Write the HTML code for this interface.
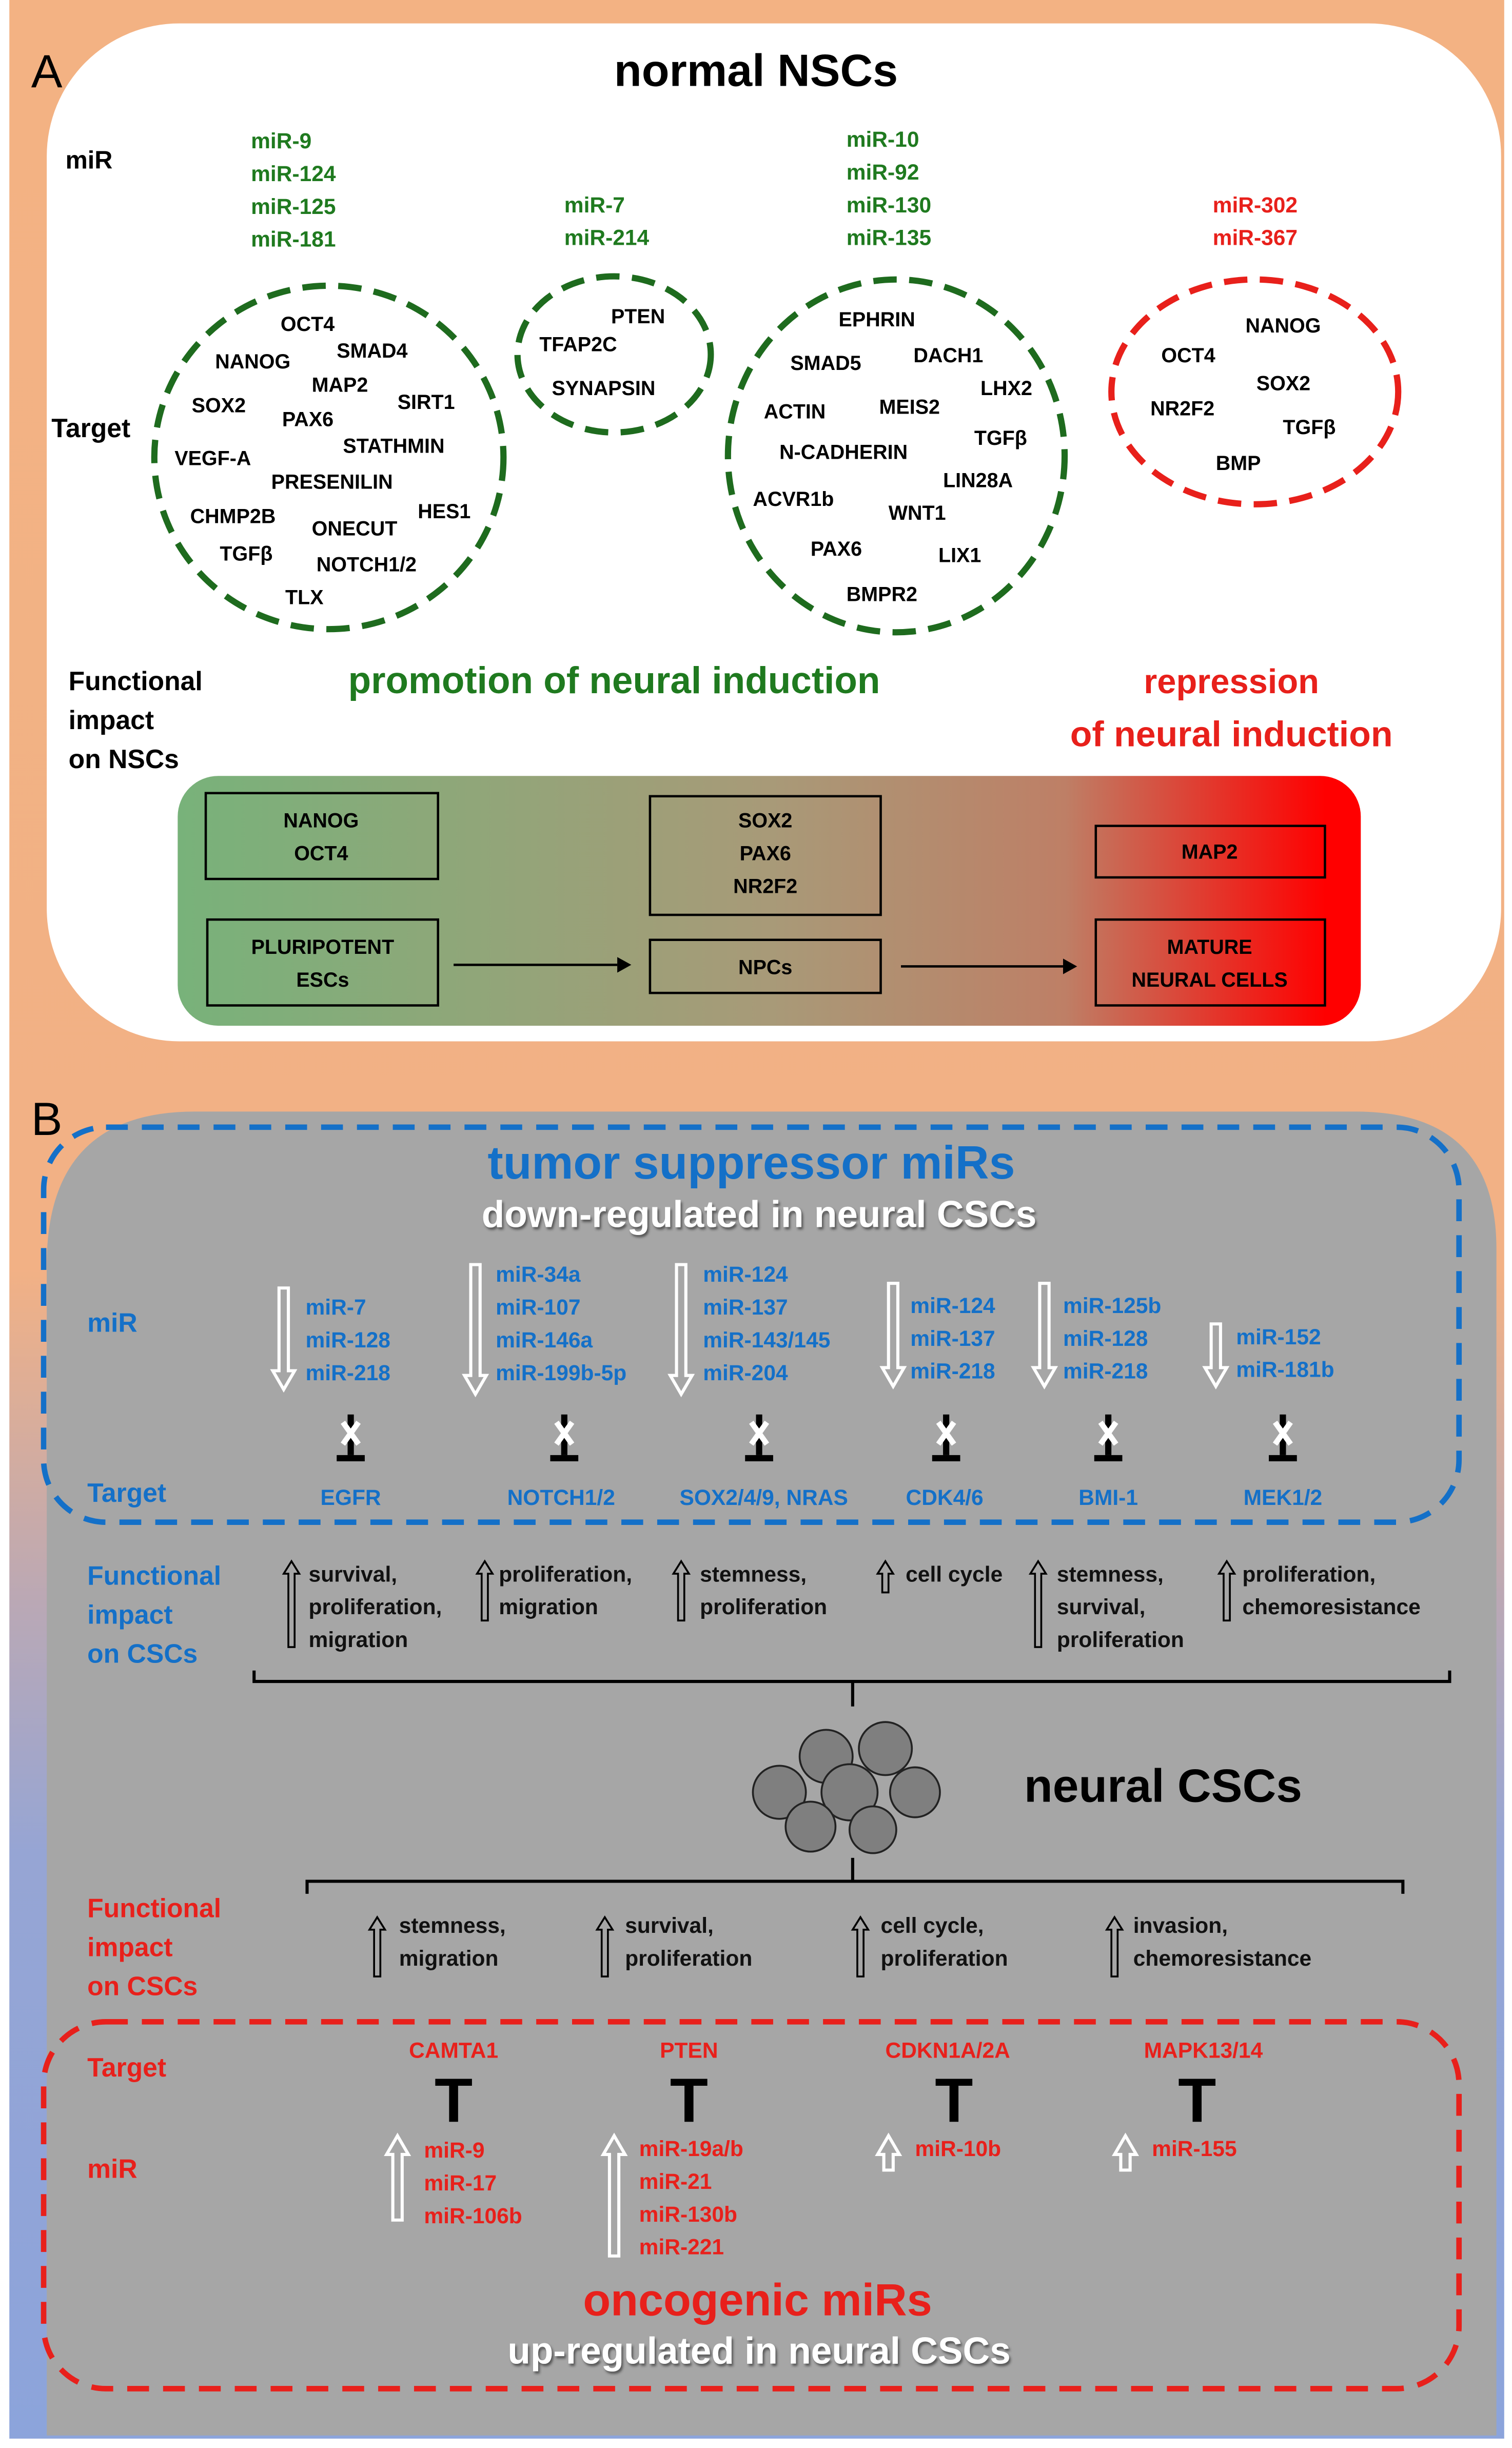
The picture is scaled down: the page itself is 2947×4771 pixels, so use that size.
<!DOCTYPE html>
<html><head><meta charset="utf-8"><style>
html,body{margin:0;padding:0;background:#fff;}
svg{display:block;}
text{font-family:"Liberation Sans",sans-serif;font-weight:bold;}
</style></head><body>
<svg width="2947" height="4771" viewBox="0 0 970 1568" preserveAspectRatio="none" xmlns="http://www.w3.org/2000/svg">
<defs>
<linearGradient id="bg" x1="0" y1="0" x2="0" y2="1">
<stop offset="0" stop-color="#F3B283"/><stop offset="0.52" stop-color="#F2B185"/>
<stop offset="0.66" stop-color="#B9A8B6"/><stop offset="0.76" stop-color="#96A5D4"/><stop offset="1" stop-color="#8CA4DB"/>
</linearGradient>
<linearGradient id="gr" x1="0" y1="0" x2="1" y2="0">
<stop offset="0" stop-color="#78B27A"/><stop offset="0.5" stop-color="#A89A78"/>
<stop offset="0.75" stop-color="#BE7F66"/><stop offset="0.97" stop-color="#FF0000"/>
</linearGradient>
<filter id="sh"><feDropShadow dx="1" dy="1.5" stdDeviation="0.8" flood-color="#333" flood-opacity="0.7"/></filter>
</defs>
<rect x="0" y="0" width="970" height="1568" fill="#fff"/>
<rect x="6" y="0" width="959" height="1562" fill="url(#bg)"/>

<!-- Panel A -->
<rect x="30" y="15" width="933" height="652" rx="85" fill="#fff"/>
<text x="20" y="56" font-size="30" font-weight="normal" style="font-weight:normal">A</text>
<text x="485" y="55" font-size="29" text-anchor="middle">normal NSCs</text>
<text x="42" y="108" font-size="16">miR</text>
<g font-size="14" fill="#1F7A1F">
<text x="161" y="95">miR-9</text><text x="161" y="116">miR-124</text><text x="161" y="137">miR-125</text><text x="161" y="158">miR-181</text>
<text x="362" y="136">miR-7</text><text x="362" y="157">miR-214</text>
<text x="543" y="94">miR-10</text><text x="543" y="115">miR-92</text><text x="543" y="136">miR-130</text><text x="543" y="157">miR-135</text>
</g>
<g font-size="14" fill="#E8201B"><text x="778" y="136">miR-302</text><text x="778" y="157">miR-367</text></g>
<text x="33" y="280" font-size="17">Target</text>
<g fill="none" stroke-width="4" stroke-dasharray="15 8">
<ellipse cx="211" cy="293" rx="112" ry="110" stroke="#1E6B1E"/>
<ellipse cx="394" cy="227" rx="62" ry="50" stroke="#1E6B1E"/>
<ellipse cx="575" cy="292" rx="108" ry="113" stroke="#1E6B1E"/>
<ellipse cx="805" cy="251" rx="92" ry="72" stroke="#E8201B"/>
</g>
<g font-size="13">
<text x="180" y="212">OCT4</text><text x="216" y="229">SMAD4</text><text x="138" y="236">NANOG</text><text x="200" y="251">MAP2</text>
<text x="255" y="262">SIRT1</text><text x="123" y="264">SOX2</text><text x="181" y="273">PAX6</text><text x="220" y="290">STATHMIN</text>
<text x="112" y="298">VEGF-A</text><text x="174" y="313">PRESENILIN</text><text x="268" y="332">HES1</text><text x="122" y="335">CHMP2B</text>
<text x="200" y="343">ONECUT</text><text x="141" y="359">TGFβ</text><text x="203" y="366">NOTCH1/2</text><text x="183" y="387">TLX</text>
<text x="392" y="207">PTEN</text><text x="346" y="225">TFAP2C</text><text x="354" y="253">SYNAPSIN</text>
<text x="538" y="209">EPHRIN</text><text x="586" y="232">DACH1</text><text x="507" y="237">SMAD5</text><text x="629" y="253">LHX2</text>
<text x="490" y="268">ACTIN</text><text x="564" y="265">MEIS2</text><text x="625" y="285">TGFβ</text><text x="500" y="294">N-CADHERIN</text>
<text x="605" y="312">LIN28A</text><text x="483" y="324">ACVR1b</text><text x="570" y="333">WNT1</text><text x="520" y="356">PAX6</text>
<text x="602" y="360">LIX1</text><text x="543" y="385">BMPR2</text>
<text x="799" y="213">NANOG</text><text x="745" y="232">OCT4</text><text x="806" y="250">SOX2</text><text x="738" y="266">NR2F2</text>
<text x="823" y="278">TGFβ</text><text x="780" y="301">BMP</text>
</g>
<g font-size="17"><text x="44" y="442">Functional</text><text x="44" y="467">impact</text><text x="44" y="492">on NSCs</text></g>
<text x="394" y="444" font-size="24" fill="#1F7A1F" text-anchor="middle">promotion  of neural induction</text>
<text x="790" y="444" font-size="22" fill="#E8201B" text-anchor="middle">repression</text>
<text x="790" y="478" font-size="23" fill="#E8201B" text-anchor="middle">of neural induction</text>
<rect x="114" y="497" width="759" height="160" rx="26" fill="url(#gr)"/>
<g fill="none" stroke="#000" stroke-width="1.5">
<rect x="132" y="508" width="149" height="55"/><rect x="417" y="510" width="148" height="76"/><rect x="703" y="529" width="147" height="33"/>
<rect x="133" y="589" width="148" height="55"/><rect x="417" y="602" width="148" height="34"/><rect x="703" y="589" width="147" height="55"/>
</g>
<g font-size="13" text-anchor="middle">
<text x="206" y="530">NANOG</text><text x="206" y="551">OCT4</text>
<text x="491" y="530">SOX2</text><text x="491" y="551">PAX6</text><text x="491" y="572">NR2F2</text>
<text x="776" y="550">MAP2</text>
<text x="207" y="611">PLURIPOTENT</text><text x="207" y="632">ESCs</text>
<text x="491" y="624">NPCs</text>
<text x="776" y="611">MATURE</text><text x="776" y="632">NEURAL CELLS</text>
</g>
<g stroke="#000" stroke-width="1.5"><line x1="291" y1="618" x2="396" y2="618"/><line x1="578" y1="619" x2="682" y2="619"/></g>
<polygon points="396,613 405,618 396,623" fill="#000"/><polygon points="682,614 691,619 682,624" fill="#000"/>

<!-- Panel B -->
<path d="M125,712 H870 Q960,712 960,800 V1560 H30 V810 Q30,712 125,712 Z" fill="#A6A6A6"/>
<text x="20" y="727" font-size="30" style="font-weight:normal">B</text>
<rect x="28" y="722" width="908" height="253" rx="40" fill="none" stroke="#1470C8" stroke-width="3.5" stroke-dasharray="14 9"/>
<rect x="28" y="1295" width="908" height="235" rx="40" fill="none" stroke="#E8201B" stroke-width="3.5" stroke-dasharray="14 9"/>
<text x="482" y="755" font-size="30" fill="#1470C8" text-anchor="middle">tumor suppressor miRs</text>
<text x="487" y="786" font-size="24" fill="#fff" text-anchor="middle" filter="url(#sh)">down-regulated in neural CSCs</text>
<g font-size="17" fill="#1470C8"><text x="56" y="853">miR</text><text x="56" y="962">Target</text>
<text x="56" y="1015">Functional</text><text x="56" y="1040">impact</text><text x="56" y="1065">on CSCs</text></g>
<g fill="none" stroke="#fff" stroke-width="2">
<polygon points="179,825 185,825 185,878 189,878 182,890 175,878 179,878"/>
<polygon points="302,810 308,810 308,881 312,881 305,893 298,881 302,881"/>
<polygon points="434,810 440,810 440,881 444,881 437,893 430,881 434,881"/>
<polygon points="570,822 576,822 576,876 580,876 573,888 566,876 570,876"/>
<polygon points="667,822 673,822 673,876 677,876 670,888 663,876 667,876"/>
<polygon points="777,848 783,848 783,876 787,876 780,888 773,876 777,876"/>
</g>
<g font-size="14" fill="#1470C8">
<text x="196" y="842">miR-7</text><text x="196" y="863">miR-128</text><text x="196" y="884">miR-218</text>
<text x="318" y="821">miR-34a</text><text x="318" y="842">miR-107</text><text x="318" y="863">miR-146a</text><text x="318" y="884">miR-199b-5p</text>
<text x="451" y="821">miR-124</text><text x="451" y="842">miR-137</text><text x="451" y="863">miR-143/145</text><text x="451" y="884">miR-204</text>
<text x="584" y="841">miR-124</text><text x="584" y="862">miR-137</text><text x="584" y="883">miR-218</text>
<text x="682" y="841">miR-125b</text><text x="682" y="862">miR-128</text><text x="682" y="883">miR-218</text>
<text x="793" y="861">miR-152</text><text x="793" y="882">miR-181b</text>
</g>
<g stroke-linecap="butt">
<g transform="translate(225,0)"><line x1="0" y1="906" x2="0" y2="932" stroke="#000" stroke-width="4"/><line x1="-9" y1="934" x2="9" y2="934" stroke="#000" stroke-width="4"/><line x1="-5" y1="911" x2="5" y2="925" stroke="#fff" stroke-width="3.5"/><line x1="5" y1="911" x2="-5" y2="925" stroke="#fff" stroke-width="3.5"/></g>
<g transform="translate(362,0)"><line x1="0" y1="906" x2="0" y2="932" stroke="#000" stroke-width="4"/><line x1="-9" y1="934" x2="9" y2="934" stroke="#000" stroke-width="4"/><line x1="-5" y1="911" x2="5" y2="925" stroke="#fff" stroke-width="3.5"/><line x1="5" y1="911" x2="-5" y2="925" stroke="#fff" stroke-width="3.5"/></g>
<g transform="translate(487,0)"><line x1="0" y1="906" x2="0" y2="932" stroke="#000" stroke-width="4"/><line x1="-9" y1="934" x2="9" y2="934" stroke="#000" stroke-width="4"/><line x1="-5" y1="911" x2="5" y2="925" stroke="#fff" stroke-width="3.5"/><line x1="5" y1="911" x2="-5" y2="925" stroke="#fff" stroke-width="3.5"/></g>
<g transform="translate(607,0)"><line x1="0" y1="906" x2="0" y2="932" stroke="#000" stroke-width="4"/><line x1="-9" y1="934" x2="9" y2="934" stroke="#000" stroke-width="4"/><line x1="-5" y1="911" x2="5" y2="925" stroke="#fff" stroke-width="3.5"/><line x1="5" y1="911" x2="-5" y2="925" stroke="#fff" stroke-width="3.5"/></g>
<g transform="translate(711,0)"><line x1="0" y1="906" x2="0" y2="932" stroke="#000" stroke-width="4"/><line x1="-9" y1="934" x2="9" y2="934" stroke="#000" stroke-width="4"/><line x1="-5" y1="911" x2="5" y2="925" stroke="#fff" stroke-width="3.5"/><line x1="5" y1="911" x2="-5" y2="925" stroke="#fff" stroke-width="3.5"/></g>
<g transform="translate(823,0)"><line x1="0" y1="906" x2="0" y2="932" stroke="#000" stroke-width="4"/><line x1="-9" y1="934" x2="9" y2="934" stroke="#000" stroke-width="4"/><line x1="-5" y1="911" x2="5" y2="925" stroke="#fff" stroke-width="3.5"/><line x1="5" y1="911" x2="-5" y2="925" stroke="#fff" stroke-width="3.5"/></g>
</g>
<g font-size="14" fill="#1470C8" text-anchor="middle" style="font-weight:normal">
<text x="225" y="964">EGFR</text><text x="360" y="964">NOTCH1/2</text><text x="490" y="964">SOX2/4/9, NRAS</text>
<text x="606" y="964">CDK4/6</text><text x="711" y="964">BMI-1</text><text x="823" y="964">MEK1/2</text>
</g>
<g fill="none" stroke="#000" stroke-width="1.2">
<polygon points="187,1000 192,1008 189,1008 189,1055 185,1055 185,1008 182,1008"/>
<polygon points="311,1000 316,1008 313,1008 313,1038 309,1038 309,1008 306,1008"/>
<polygon points="437,1000 442,1008 439,1008 439,1038 435,1038 435,1008 432,1008"/>
<polygon points="568,1000 573,1008 570,1008 570,1020 566,1020 566,1008 563,1008"/>
<polygon points="666,1000 671,1008 668,1008 668,1055 664,1055 664,1008 661,1008"/>
<polygon points="787,1000 792,1008 789,1008 789,1038 785,1038 785,1008 782,1008"/>
<polygon points="242,1228 247,1236 244,1236 244,1266 240,1266 240,1236 237,1236"/>
<polygon points="388,1228 393,1236 390,1236 390,1266 386,1266 386,1236 383,1236"/>
<polygon points="552,1228 557,1236 554,1236 554,1266 550,1266 550,1236 547,1236"/>
<polygon points="715,1228 720,1236 717,1236 717,1266 713,1266 713,1236 710,1236"/>
</g>
<g font-size="14" fill="#111">
<text x="198" y="1013">survival,</text><text x="198" y="1034">proliferation,</text><text x="198" y="1055">migration</text>
<text x="320" y="1013">proliferation,</text><text x="320" y="1034">migration</text>
<text x="449" y="1013">stemness,</text><text x="449" y="1034">proliferation</text>
<text x="581" y="1013">cell cycle</text>
<text x="678" y="1013">stemness,</text><text x="678" y="1034">survival,</text><text x="678" y="1055">proliferation</text>
<text x="797" y="1013">proliferation,</text><text x="797" y="1034">chemoresistance</text>
<text x="256" y="1238">stemness,</text><text x="256" y="1259">migration</text>
<text x="401" y="1238">survival,</text><text x="401" y="1259">proliferation</text>
<text x="565" y="1238">cell cycle,</text><text x="565" y="1259">proliferation</text>
<text x="727" y="1238">invasion,</text><text x="727" y="1259">chemoresistance</text>
</g>
<g stroke="#000" stroke-width="2" fill="none">
<polyline points="163,1070 163,1077 930,1077 930,1070"/><line x1="547" y1="1077" x2="547" y2="1093"/>
<polyline points="197,1213 197,1205 900,1205 900,1213"/><line x1="547" y1="1205" x2="547" y2="1190"/>
</g>
<g fill="#7F7F7F" stroke="#222" stroke-width="1.2">
<circle cx="530" cy="1125" r="17"/><circle cx="568" cy="1120" r="17"/><circle cx="500" cy="1148" r="17"/>
<circle cx="587" cy="1148" r="16"/><circle cx="545" cy="1148" r="18"/><circle cx="520" cy="1170" r="16"/>
<circle cx="560" cy="1172" r="15"/>
</g>
<text x="657" y="1154" font-size="30">neural CSCs</text>
<g font-size="17" fill="#E8201B"><text x="56" y="1228">Functional</text><text x="56" y="1253">impact</text><text x="56" y="1278">on CSCs</text>
<text x="56" y="1330">Target</text><text x="56" y="1395">miR</text></g>
<g font-size="14" fill="#E8201B" text-anchor="middle">
<text x="291" y="1318">CAMTA1</text><text x="442" y="1318">PTEN</text><text x="608" y="1318">CDKN1A/2A</text><text x="772" y="1318">MAPK13/14</text>
</g>
<g font-size="40" text-anchor="middle"><text x="291" y="1359">T</text><text x="442" y="1359">T</text><text x="612" y="1359">T</text><text x="768" y="1359">T</text></g>
<g fill="none" stroke="#fff" stroke-width="2">
<polygon points="255,1368 262,1380 258,1380 258,1422 252,1422 252,1380 248,1380"/>
<polygon points="394,1368 401,1380 397,1380 397,1445 391,1445 391,1380 387,1380"/>
<polygon points="570,1368 577,1380 573,1380 573,1390 567,1390 567,1380 563,1380"/>
<polygon points="722,1368 729,1380 725,1380 725,1390 719,1390 719,1380 715,1380"/>
</g>
<g font-size="14" fill="#E8201B">
<text x="272" y="1382">miR-9</text><text x="272" y="1403">miR-17</text><text x="272" y="1424">miR-106b</text>
<text x="410" y="1381">miR-19a/b</text><text x="410" y="1402">miR-21</text><text x="410" y="1423">miR-130b</text><text x="410" y="1444">miR-221</text>
<text x="587" y="1381">miR-10b</text><text x="739" y="1381">miR-155</text>
</g>
<text x="486" y="1483" font-size="29" fill="#E8201B" text-anchor="middle">oncogenic miRs</text>
<text x="487" y="1514" font-size="24" fill="#fff" text-anchor="middle" filter="url(#sh)">up-regulated in neural CSCs</text>
</svg>
</body></html>
